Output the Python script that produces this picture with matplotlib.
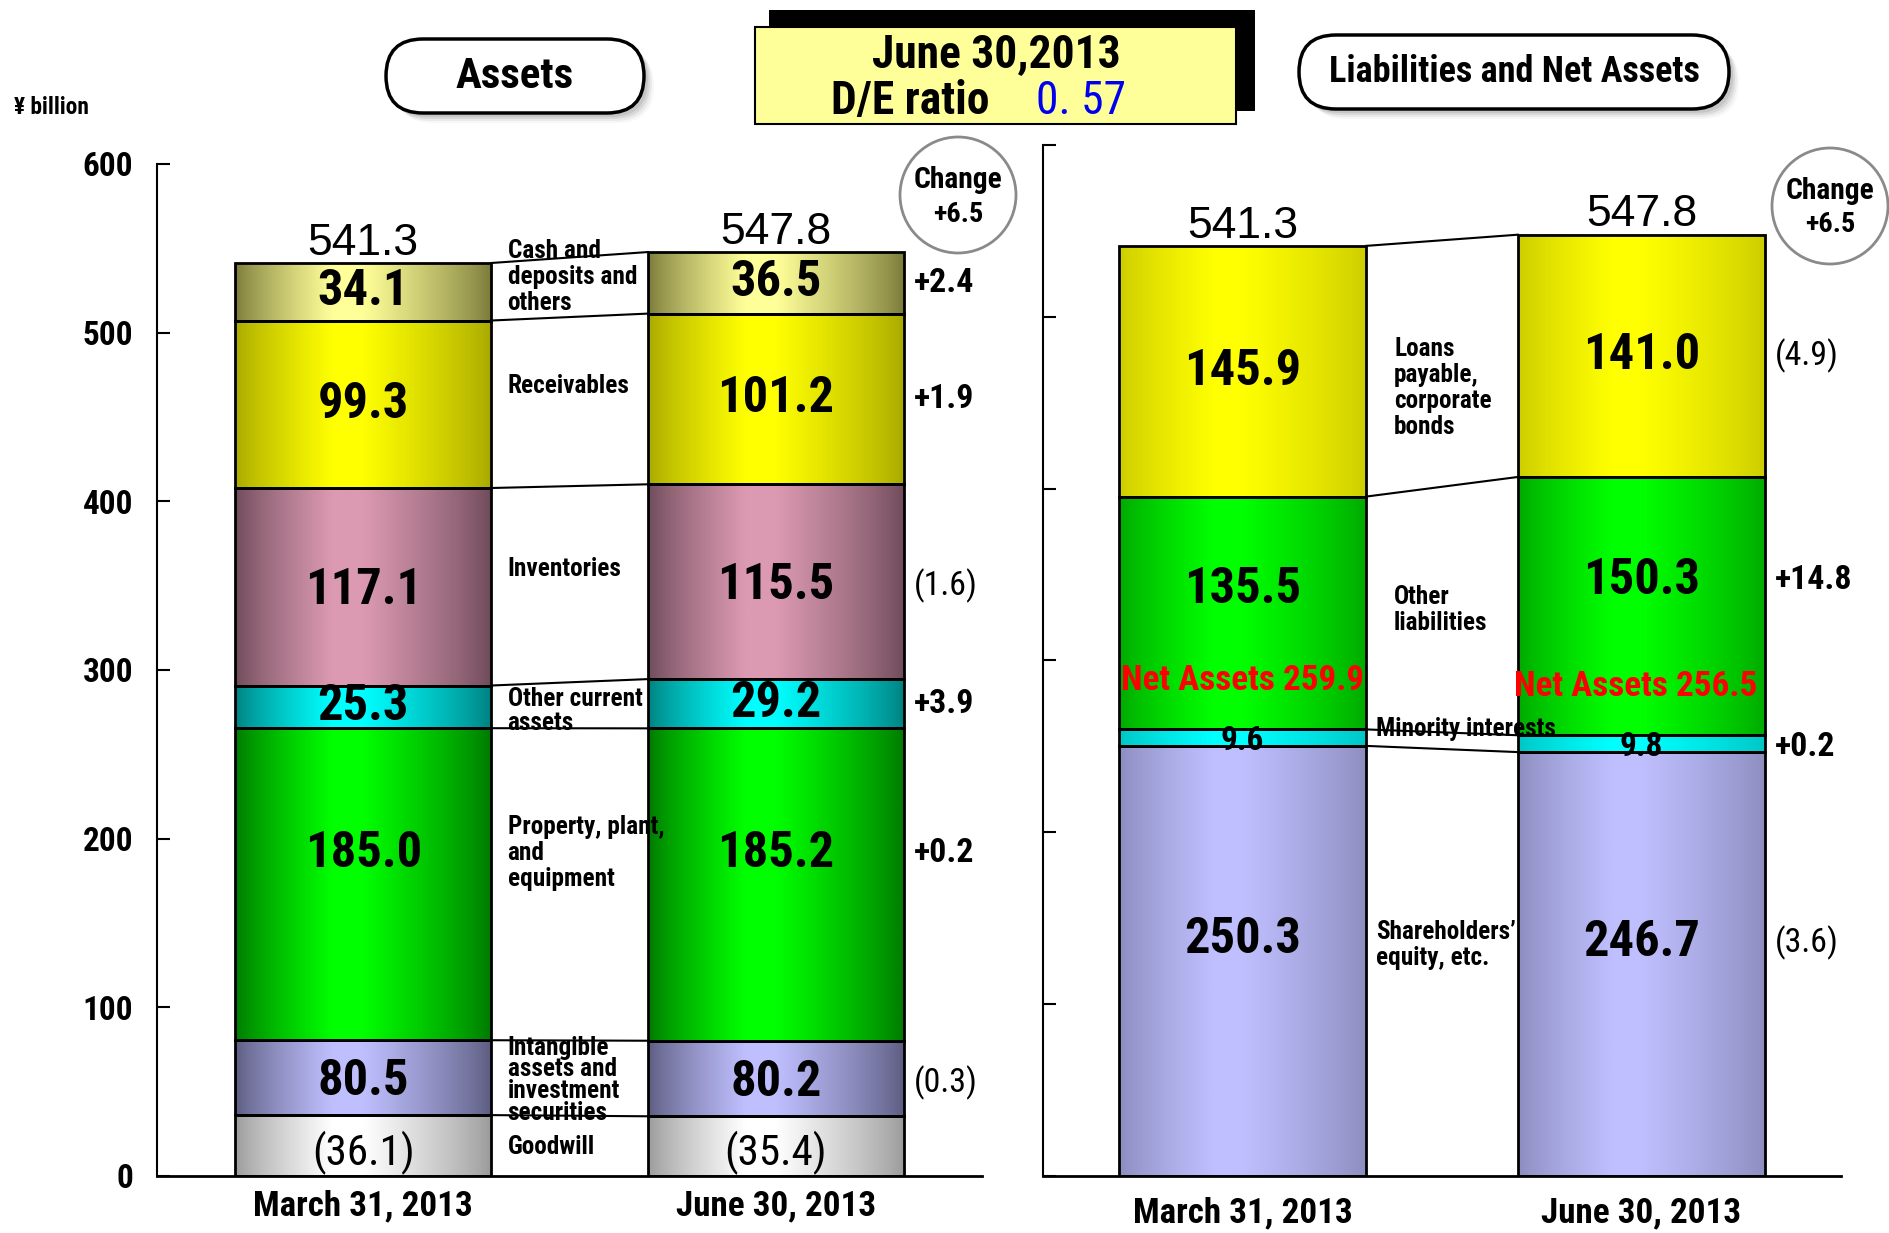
import matplotlib
matplotlib.use("Agg")
import matplotlib.pyplot as plt
import numpy as np
from matplotlib import font_manager
from matplotlib.colors import to_rgb
from matplotlib.patches import Circle, FancyBboxPatch, Rectangle
from matplotlib.textpath import TextToPath


def find_condensed():
    prefs = ["Liberation Sans Narrow", "Arial Narrow", "Roboto Condensed", "Noto Sans",
             "Open Sans", "DejaVu Sans", "Roboto", "Lato", "Inter"]
    found = {}
    for f in font_manager.fontManager.ttflist:
        tag = f.name + " " + f.fname
        if (str(f.stretch) in ("condensed", "semi-condensed", "extra-condensed")
                or "Narrow" in tag or "Condensed" in tag):
            found.setdefault(f.name, f.stretch)
    for p in prefs:
        for name, st in found.items():
            if name.startswith(p):
                return name, st
    return "Liberation Sans", "normal"


NARROW, STRETCH = find_condensed()
plt.rcParams["font.family"] = [NARROW, "DejaVu Sans"]
plt.rcParams["font.stretch"] = STRETCH
plt.rcParams["font.weight"] = "bold"

# sizes below are tuned for Arial Narrow Bold widths; rescale for whatever font we got
_prop = font_manager.FontProperties(family=[NARROW], weight="bold", stretch=STRETCH, size=38)
_w = TextToPath().get_text_width_height_descent("185.0", _prop, ismath=False)[0]
SCALE = min(1.15, 2.052 * 38 / _w) if _w > 0 else 1.0


def F(size):
    return size * SCALE


dates = ["March 31, 2013", "June 30, 2013"]

# assets, ¥ billion (the intangible figure already contains goodwill)
goodwill = np.array([36.1, 35.4])
intangible = np.array([80.5, 80.2])
ppe = np.array([185.0, 185.2])
other_current = np.array([25.3, 29.2])
inventories = np.array([117.1, 115.5])
receivables = np.array([99.3, 101.2])
cash = np.array([34.1, 36.5])

# liabilities and net assets, ¥ billion
equity = np.array([250.3, 246.7])
minority = np.array([9.6, 9.8])
other_liab = np.array([135.5, 150.3])
loans = np.array([145.9, 141.0])

de_ratio = "0. 57"

W = 0.62
X = np.arange(2)


def fmt_change(d):
    return f"+{d:.1f}" if d >= 0 else f"({-d:.1f})"


def shaded_bar(ax, x, bottom, height, edge, mid):
    t = np.linspace(0, 1, 200)
    s = np.interp(t, [0, 0.38, 0.5, 1], [0, 1, 1, 0]) ** 0.8
    e, m = np.array(to_rgb(edge)), np.array(to_rgb(mid))
    grad = e + (m - e) * s[:, None]
    ax.imshow(grad[None], extent=(x - W / 2, x + W / 2, bottom, bottom + height),
              aspect="auto", interpolation="bilinear", zorder=2)
    ax.bar(x, height, W, bottom=bottom, fc="none", ec="black", lw=2, zorder=3)


def draw_panel(ax, segs, shown, colors, label_frac, gap_text, gap_frac, gap_x,
               gap_spacing, show_change, small):
    bottoms = np.vstack([np.zeros(2), np.cumsum(segs, axis=0)[:-1]])
    for i, seg in enumerate(segs):
        ys = []
        for j in X:
            shaded_bar(ax, j, bottoms[i][j], seg[j], *colors[i])
            y = bottoms[i][j] + label_frac[i] * seg[j]
            ys.append(y)
            txt = f"{shown[i][j]:.1f}"
            if small[i] == "paren":
                ax.text(j, y, f"({txt})", ha="center", va="center", fontsize=F(35),
                        fontweight="normal", zorder=5)
            else:
                ax.text(j, y, txt, ha="center", va="center",
                        fontsize=F(27) if small[i] else F(41), zorder=5)
        # connector between the two bars at the top of this segment
        top = bottoms[i] + seg
        ax.plot([W / 2, 1 - W / 2], top, color="black", lw=1.5, zorder=3)
        gy = bottoms[i].mean() + gap_frac[i] * seg.mean()
        ax.text(gap_x[i], gy, gap_text[i], ha="left", va="center", fontsize=F(20.5),
                linespacing=gap_spacing[i], zorder=5)
        if show_change[i]:
            d = shown[i][1] - shown[i][0]
            ax.text(1.335, ys[1], fmt_change(d), ha="left", va="center", fontsize=F(27.5),
                    fontweight="bold" if d >= 0 else "normal", zorder=5)
    totals = segs.sum(axis=0)
    for j in X:
        ax.annotate(f"{totals[j]:.1f}", (j, totals[j]), xytext=(0, 6),
                    textcoords="offset points", ha="center", va="baseline",
                    fontsize=32, fontweight="normal", family="Liberation Sans",
                    stretch="normal")
    return totals


def style_axes(ax, show_labels, pad):
    ax.set_xlim(-0.5, 1.5)
    ax.set_ylim(0, 600)
    ax.set_facecolor("none")
    for s in ("top", "right"):
        ax.spines[s].set_visible(False)
    ax.spines["left"].set_linewidth(1.5)
    ax.spines["bottom"].set_linewidth(2)
    ax.set_yticks(np.arange(0, 601, 100))
    ax.tick_params(axis="y", direction="in", length=9, width=1.5, pad=17, labelsize=F(27))
    if not show_labels:
        ax.set_yticklabels([])
    ax.set_xticks(X, dates)
    ax.tick_params(axis="x", length=0, pad=pad, labelsize=F(28.5))


fig = plt.figure(figsize=(18.9, 12.33), dpi=100)

# left panel: assets
ax1 = fig.add_axes([157 / 1890, 57 / 1233, 825 / 1890, 1012 / 1233])
asset_segs = np.array([goodwill, intangible - goodwill, ppe, other_current,
                       inventories, receivables, cash])
asset_shown = [goodwill, intangible, ppe, other_current, inventories, receivables, cash]
asset_colors = [("#9a9a9a", "#ffffff"), ("#5c5c80", "#bfbfff"), ("#007800", "#00ff00"),
                ("#008080", "#00ffff"), ("#6e4b5a", "#dc9ab2"), ("#a8a800", "#ffff00"),
                ("#7a7a3a", "#ffff99")]
asset_text = ["Goodwill", "Intangible\nassets and\ninvestment\nsecurities",
              "Property, plant,\nand\nequipment", "Other current\nassets",
              "Inventories", "Receivables", "Cash and\ndeposits and\nothers"]
asset_totals = draw_panel(
    ax1, asset_segs, asset_shown, asset_colors,
    label_frac=[0.38, 0.45, 0.6, 0.5, 0.48, 0.5, 0.5],
    gap_text=asset_text,
    gap_frac=[0.48, 0.47, 0.6, 0.37, 0.58, 0.59, 0.67],
    gap_x=[0.35] * 7,
    gap_spacing=[1.0, 0.88, 1.1, 1.0, 1.0, 1.0, 1.1],
    show_change=[False, True, True, True, True, True, True],
    small=["paren", False, False, False, False, False, False])
style_axes(ax1, True, 10)

# right panel: liabilities and net assets
ax2 = fig.add_axes([1043 / 1890, 57 / 1233, 798 / 1890, 1031 / 1233])
liab_segs = np.array([equity, minority, other_liab, loans])
liab_colors = [("#8c8cbe", "#bfbfff"), ("#00c4c4", "#00ffff"),
               ("#00a800", "#00ff00"), ("#cccc00", "#ffff00")]
liab_text = ["Shareholders’\nequity, etc.", "Minority interests",
             "Other\nliabilities", "Loans\npayable,\ncorporate\nbonds"]
liab_totals = draw_panel(
    ax2, liab_segs, liab_segs, liab_colors,
    label_frac=[0.55, 0.3, 0.6, 0.5],
    gap_text=liab_text,
    gap_frac=[0.54, 1.18, 0.5, 0.4],
    gap_x=[0.335, 0.335, 0.38, 0.38],
    gap_spacing=[1.1, 1.0, 1.1, 1.1],
    show_change=[True, True, True, True],
    small=[False, True, False, False])
net_assets = equity + minority
for j in X:
    ax2.annotate(f"Net Assets {net_assets[j]:.1f}", (j, net_assets[j]), xytext=(-4 * j, 35),
                 textcoords="offset points", ha="center", va="center",
                 fontsize=F(28.5), color="red", zorder=6)
style_axes(ax2, False, 15)

# header decorations, in pixel coordinates
ax0 = fig.add_axes([0, 0, 1, 1], zorder=10)
ax0.set_xlim(0, 1890)
ax0.set_ylim(1233, 0)
ax0.axis("off")
ax0.set_facecolor("none")

ax0.text(14, 108, "¥ billion", ha="left", va="center", fontsize=F(19))


def pill(x, y, w, h, text, size):
    style = f"round,pad=0,rounding_size={h / 2}"
    for k, a in [(10, 0.06), (8, 0.1), (6, 0.16), (4, 0.2)]:
        ax0.add_patch(FancyBboxPatch((x + k, y + k), w, h, boxstyle=style,
                                     fc="gray", ec="none", alpha=a))
    ax0.add_patch(FancyBboxPatch((x, y), w, h, boxstyle=style, fc="white",
                                 ec="black", lw=2.5))
    ax0.text(x + w / 2, y + h / 2, text, ha="center", va="center", fontsize=size)


pill(386, 39, 258, 74, "Assets", F(35))
pill(1299, 35, 430, 74, "Liabilities and Net Assets", F(29.5))

ax0.add_patch(Rectangle((769, 10), 486, 101, fc="black", ec="none"))
ax0.add_patch(Rectangle((755, 27), 481, 97, fc="#ffff99", ec="black", lw=1.5))
ax0.text(996, 54, "June 30,2013", ha="center", va="center", fontsize=F(37))
ax0.text(910, 101, "D/E ratio", ha="center", va="center", fontsize=F(37))
ax0.text(1081, 101, de_ratio, ha="center", va="center", fontsize=F(37), color="#0000ee",
         fontweight="normal")

for (cx, cy), total in [((958, 195), asset_totals), ((1830, 206), liab_totals)]:
    ax0.add_patch(Circle((cx, cy), 58, fc="white", ec="#8a8a8a", lw=2))
    ax0.text(cx, cy - 15, "Change", ha="center", va="center", fontsize=F(24))
    ax0.text(cx, cy + 19, f"+{total[1] - total[0]:.1f}", ha="center", va="center",
             fontsize=F(23))

fig.savefig("out.png", dpi=100)
